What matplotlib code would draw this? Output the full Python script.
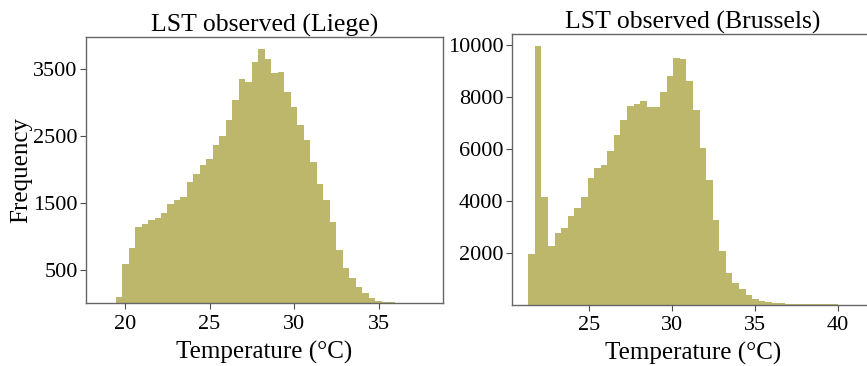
import numpy as np
import matplotlib
matplotlib.use("Agg")
from matplotlib import pyplot as plt

# histogram counts (50 bins each)
liege_lo, liege_hi = 18.69, 37.82
liege_counts = [0, 5, 100, 585, 824, 1147, 1187, 1246, 1286, 1356,
                1485, 1555, 1594, 1818, 1943, 2067, 2167, 2366, 2500, 2749,
                3037, 3361, 3311, 3609, 3808, 3659, 3445, 3460, 3162, 2938,
                2664, 2450, 2117, 1784, 1545, 1221, 799, 525, 376, 251,
                152, 77, 42, 27, 17, 12, 7, 4, 2, 1]

brussels_lo, brussels_hi = 21.345, 41.17
brussels_counts = [1935, 9974, 4168, 2271, 2748, 2942, 3419, 3742, 4142, 4877,
                   5265, 5394, 5910, 6555, 7135, 7652, 7755, 7845, 7613, 7613,
                   8206, 8839, 9497, 9458, 8619, 7523, 6039, 4813, 3265, 2077,
                   1200, 813, 581, 361, 232, 142, 103, 65, 50, 35,
                   22, 12, 6, 3, 2, 1, 1, 0, 0, 0]

liege_xticks = [20, 25, 30, 35]
liege_yticks = [500, 1500, 2500, 3500]
brussels_xticks = [25, 30, 35, 40]
brussels_yticks = [2000, 4000, 6000, 8000, 10000]

plt.rcParams['font.family'] = ['Liberation Serif', 'DejaVu Serif']
barColor = '#BDB76B'

fig = plt.figure(figsize=(8.67, 3.66), dpi=100)
axL = fig.add_axes([0.0992, 0.1708, 0.4118, 0.728])
axR = fig.add_axes([0.5902, 0.168, 0.418, 0.739])

def drawHist(ax, lo, hi, counts):
    edges = np.linspace(lo, hi, len(counts) + 1)
    ax.stairs(counts, edges, fill=True, color=barColor, linewidth=0)

drawHist(axL, liege_lo, liege_hi, liege_counts)
drawHist(axR, brussels_lo, brussels_hi, brussels_counts)

axL.set_xlim(17.71, 38.77)
axL.set_ylim(0, 3985)
axR.set_xlim(20.35, 42.16)
axR.set_ylim(0, 10440)

axL.set_xticks(liege_xticks)
axL.set_yticks(liege_yticks)
axR.set_xticks(brussels_xticks)
axR.set_yticks(brussels_yticks)

for ax in (axL, axR):
    ax.tick_params(labelsize=16, length=4, width=0.8, pad=2, color='0.3')
    ax.tick_params(axis='x', pad=4)
    for s in ax.spines.values():
        s.set_color('0.4')
        s.set_linewidth(1)
    ax.set_xlabel('Temperature (°C)', fontsize=18, labelpad=5)

axL.set_title('LST observed (Liege)', fontsize=18.5, pad=2)
axR.set_title('LST observed (Brussels)', fontsize=18.5, pad=1)
axL.set_ylabel('Frequency', fontsize=18, labelpad=1)

fig.savefig('out.png', dpi=100)
